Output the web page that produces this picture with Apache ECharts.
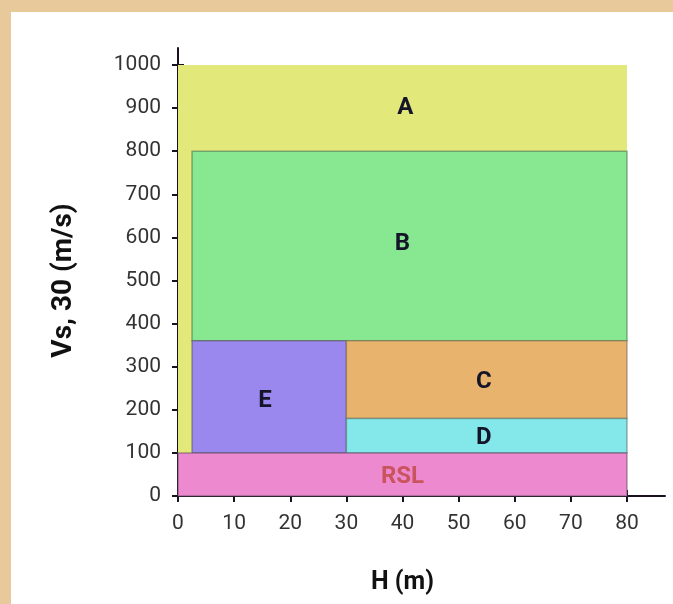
<!DOCTYPE html>
<html><head><meta charset="utf-8">
<script src="https://cdn.jsdelivr.net/npm/echarts@6/dist/echarts.min.js"></script>
<style>html,body{margin:0;padding:0;background:#e8c99c;}#c{width:673px;height:604px;}</style>
</head><body><div id="c"></div>
<script>
// zone data
var zoneNames = ['A', 'B', 'E', 'C', 'D', 'RSL'];
var zoneX0 = [0, 2.5, 2.5, 30, 30, 0];
var zoneX1 = [80, 80, 30, 80, 80, 80];
var zoneY0 = [100, 360, 100, 180, 100, 0];
var zoneY1 = [1000, 800, 360, 360, 180, 100];
var labelX = [40.5, 40, 15.5, 54.5, 54.5, 40];
var labelY = [900, 585, 220, 265, 135, 45];
var xTicks = [0, 10, 20, 30, 40, 50, 60, 70, 80];
var yTicks = [0, 100, 200, 300, 400, 500, 600, 700, 800, 900, 1000];

var zoneColors = {A:'#e2e879', B:'#87e891', E:'#9b88ee', C:'#e8b46d', D:'#84e8ea', RSL:'#ec89cf'};
var zoneBorder = {A:null, B:'rgba(70,110,80,0.55)', E:'rgba(80,80,90,0.5)', C:'rgba(110,100,80,0.5)', D:'rgba(80,100,100,0.5)', RSL:'rgba(90,70,90,0.5)'};
var labelColor = {A:'#15152a', B:'#15152a', E:'#15152a', C:'#15152a', D:'#15152a', RSL:'#c9545e'};

var NARROW = '"Liberation Sans Narrow", Roboto, sans-serif';
var FONT = 'Roboto, "Noto Sans", sans-serif';
var data = zoneNames.map(function(n, i){ return [zoneX0[i], zoneX1[i], zoneY0[i], zoneY1[i], labelX[i], labelY[i], n]; });

var chart = echarts.init(document.getElementById('c'));
var axLine = {lineStyle:{color:'#1a1020', width:2}};
chart.setOption({
  backgroundColor: '#e8c99c',
  animation: false,
  graphic: [{type:'rect', left:11, top:12, shape:{width:662, height:592}, style:{fill:'#ffffff'}, z:-10}],
  grid: [
    {left:178, right:46, top:65, bottom:108},
    {left:178, right:8, top:48, bottom:108}
  ],
  xAxis: [
    {type:'value', gridIndex:0, min:0, max:80, interval:10, position:'bottom',
     axisLine:{show:false}, splitLine:{show:false},
     axisTick:{show:true, length:6, lineStyle:{color:'#1a1020', width:2}},
     axisLabel:{margin:17, fontSize:21, color:'#333', fontFamily:FONT,
       formatter:function(v){ return xTicks.indexOf(v) >= 0 ? String(v) : ''; }},
     name:'H (m)', nameLocation:'middle', nameGap:74,
     nameTextStyle:{fontSize:25, fontWeight:'bold', color:'#111', fontFamily:FONT}},
    {type:'value', gridIndex:0, min:0, max:80, interval:10, position:'bottom',
     axisLine:{show:false}, splitLine:{show:false}, axisLabel:{show:false},
     axisTick:{show:true, inside:true, length:6, lineStyle:{color:'#1a1020', width:2}}},
    {type:'value', gridIndex:1, min:0, max:1, position:'bottom',
     axisLine:axLine, axisTick:{show:false}, axisLabel:{show:false}, splitLine:{show:false}}
  ],
  yAxis: [
    {type:'value', gridIndex:0, min:0, max:1000, interval:100, position:'left',
     axisLine:{show:false}, splitLine:{show:false},
     axisTick:{show:true, length:6, lineStyle:{color:'#1a1020', width:2}},
     axisLabel:{margin:17, fontSize:21, color:'#333', fontFamily:FONT,
       formatter:function(v){ return yTicks.indexOf(v) >= 0 ? String(v) : ''; }},
     name:'Vs, 30 (m/s)', nameLocation:'middle', nameGap:100, nameRotate:90,
     nameTextStyle:{fontSize:28, fontWeight:'bold', color:'#111', fontFamily:FONT}},
    {type:'value', gridIndex:0, min:0, max:1000, interval:100, position:'left',
     axisLine:{show:false}, splitLine:{show:false}, axisLabel:{show:false},
     axisTick:{show:true, inside:true, length:6, lineStyle:{color:'#1a1020', width:2}}},
    {type:'value', gridIndex:1, min:0, max:1, position:'left',
     axisLine:axLine, axisTick:{show:false}, axisLabel:{show:false}, splitLine:{show:false}}
  ],
  series: [
    {type:'custom', xAxisIndex:0, yAxisIndex:0, data:data, z:2,
     renderItem:function(params, api){
       var p0 = api.coord([api.value(0), api.value(3)]);
       var p1 = api.coord([api.value(1), api.value(2)]);
       var name = zoneNames[params.dataIndex];
       var b = zoneBorder[name];
       return {type:'rect',
         shape:{x:p0[0], y:p0[1], width:p1[0]-p0[0], height:p1[1]-p0[1]},
         style:{fill:zoneColors[name], stroke:b || 'none', lineWidth: b ? 1.5 : 0}};
     }},
    {type:'custom', xAxisIndex:0, yAxisIndex:0, data:data, z:3,
     renderItem:function(params, api){
       var p = api.coord([api.value(4), api.value(5)]);
       var name = zoneNames[params.dataIndex];
       return {type:'text', x:p[0], y:p[1],
         style:{text:name, fill:labelColor[name], font:'bold 24px ' + NARROW, align:'center', verticalAlign:'middle'}};
     }}
  ]
});
</script></body></html>
